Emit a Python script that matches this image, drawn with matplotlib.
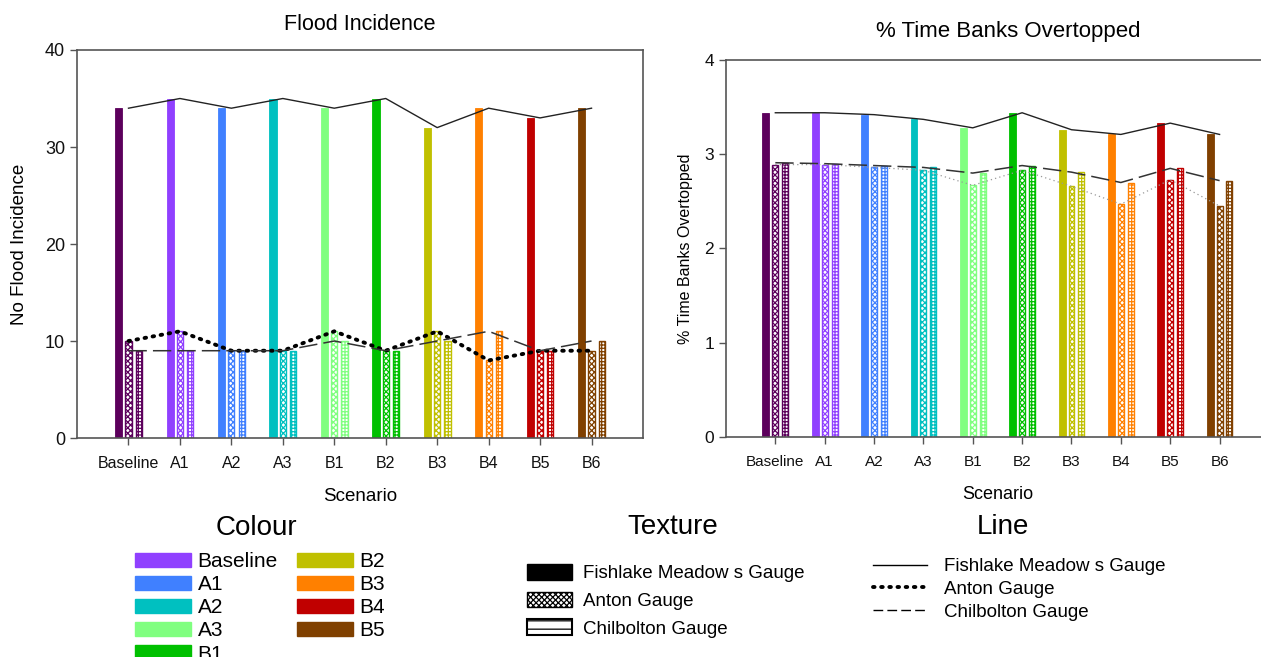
import numpy as np
import matplotlib
matplotlib.use("Agg")
import matplotlib.pyplot as plt
from matplotlib.patches import Patch
from matplotlib.lines import Line2D

plt.rcParams['font.family'] = ['Liberation Sans', 'DejaVu Sans']
plt.rcParams['hatch.linewidth'] = 0.9

scenarios = ['Baseline', 'A1', 'A2', 'A3', 'B1', 'B2', 'B3', 'B4', 'B5', 'B6']
bar_colours = ['#5c005c', '#9040ff', '#4080ff', '#00c0c0', '#80ff80',
               '#00c000', '#c0c000', '#ff8000', '#c00000', '#804000']

# Flood incidence (counts)
flood_fishlake = [34, 35, 34, 35, 34, 35, 32, 34, 33, 34]
flood_anton = [10, 11, 9, 9, 11, 9, 11, 8, 9, 9]
flood_chilbolton = [9, 9, 9, 9, 10, 9, 10, 11, 9, 10]

# % time banks overtopped
over_fishlake = [3.44, 3.44, 3.42, 3.37, 3.28, 3.44, 3.26, 3.21, 3.33, 3.21]
over_anton = [2.89, 2.89, 2.86, 2.83, 2.67, 2.83, 2.66, 2.47, 2.73, 2.45]
over_chilbolton = [2.91, 2.90, 2.88, 2.86, 2.80, 2.88, 2.81, 2.70, 2.85, 2.72]

# colour legend (as labelled in the original figure)
legend_names = ['Baseline', 'A1', 'A2', 'A3', 'B1', 'B2', 'B3', 'B4', 'B5']
legend_colours = ['#9040ff', '#4080ff', '#00c0c0', '#80ff80', '#00c000',
                  '#c0c000', '#ff8000', '#c00000', '#804000']

spine_col = '#555555'
x = np.arange(len(scenarios))


def draw_panel(ax, fish, anton, chil, anton_style, tick_fs, label_fs):
    for i in range(len(scenarios)):
        c = bar_colours[i]
        ax.bar(x[i] - 0.19, fish[i], width=0.14, color=c, edgecolor=c,
               linewidth=0.6, zorder=2)
        ax.bar(x[i], anton[i], width=0.12, facecolor='white', edgecolor=c,
               hatch='xxxxxx', linewidth=1.0, zorder=2)
        ax.bar(x[i] + 0.2, chil[i], width=0.12, facecolor='white', edgecolor=c,
               hatch='+++++', linewidth=1.0, zorder=2)
    ax.plot(x, fish, color='#222222', lw=1.0, zorder=4)
    ax.plot(x, anton, zorder=4, **anton_style)
    ax.plot(x, chil, color='#333333', lw=1.1, dashes=(12, 4), zorder=4)
    ax.set_xlim(-1, 10)
    ax.set_xticks(x)
    ax.set_xticklabels(scenarios, fontsize=tick_fs)
    for s in ax.spines.values():
        s.set_color(spine_col)
        s.set_linewidth(1.2)
    ax.tick_params(axis='both', colors=spine_col, labelcolor='#111111',
                   direction='out', length=5, width=1)
    ax.tick_params(axis='x', pad=8)
    ax.tick_params(axis='y', labelsize=tick_fs + 1.5)
    ax.set_xlabel('Scenario', fontsize=label_fs, labelpad=12)


fig = plt.figure(figsize=(12.61, 6.57), dpi=100)
ax1 = fig.add_axes([0.0611, 0.3333, 0.4488, 0.5906])
ax2 = fig.add_axes([0.5757, 0.3349, 0.4306, 0.5738])

draw_panel(ax1, flood_fishlake, flood_anton, flood_chilbolton,
           dict(color='black', lw=2.8, linestyle=(0, (0.4, 1.7)),
                dash_capstyle='round'), 11.5, 13.5)
ax1.set_ylim(0, 40)
ax1.set_yticks([0, 10, 20, 30, 40])
ax1.set_ylabel('No Flood Incidence', fontsize=13.5, labelpad=12)
fig.text(360 / 1261, 1 - 25 / 657, 'Flood Incidence', fontsize=15.5,
         ha='center', va='center')

draw_panel(ax2, over_fishlake, over_anton, over_chilbolton,
           dict(color='#999999', lw=0.9, linestyle=(0, (1, 2.5))), 11, 13)
ax2.spines['right'].set_visible(False)
ax2.set_ylim(0, 4)
ax2.set_yticks([0, 1, 2, 3, 4])
ax2.set_ylabel('% Time Banks Overtopped', fontsize=11.5, labelpad=8)
fig.text(1008 / 1261, 1 - 31 / 657, '% Time Banks Overtopped', fontsize=16,
         ha='center', va='center')

# legends
fig.text(256 / 1261, 1 - 528 / 657, 'Colour', fontsize=20, ha='center', va='center')
colour_handles = [Patch(facecolor=c, edgecolor=c) for c in legend_colours]
fig.legend(colour_handles, legend_names, ncol=2, loc='upper left',
           bbox_to_anchor=(135 / 1261, 1 - 552 / 657), frameon=False,
           fontsize=15, handlelength=2.7, handleheight=0.65,
           labelspacing=0.2, handletextpad=0.3, columnspacing=0.9,
           borderpad=0, borderaxespad=0)

fig.text(673 / 1261, 1 - 527 / 657, 'Texture', fontsize=20, ha='center', va='center')
texture_handles = [Patch(facecolor='black', edgecolor='black'),
                   Patch(facecolor='white', edgecolor='black', hatch='xxxxxx'),
                   Patch(facecolor='white', edgecolor='black', hatch='--', linewidth=1.5)]
fig.legend(texture_handles,
           ['Fishlake Meadow s Gauge', 'Anton Gauge', 'Chilbolton Gauge'],
           loc='upper left', bbox_to_anchor=(527 / 1261, 1 - 564 / 657),
           frameon=False, fontsize=13.5, handlelength=2.4, handleheight=0.9,
           labelspacing=0.5, handletextpad=0.6, borderpad=0, borderaxespad=0)

fig.text(1003 / 1261, 1 - 527 / 657, 'Line', fontsize=20, ha='center', va='center')
line_handles = [Line2D([], [], color='black', lw=1.0),
                Line2D([], [], color='black', lw=2.8, linestyle=(0, (0.4, 1.7)),
                       dash_capstyle='round'),
                Line2D([], [], color='black', lw=1.0, dashes=(7, 3))]
fig.legend(line_handles,
           ['Fishlake Meadow s Gauge', 'Anton Gauge', 'Chilbolton Gauge'],
           loc='upper left', bbox_to_anchor=(873 / 1261, 1 - 558 / 657),
           frameon=False, fontsize=13.5, handlelength=2.9,
           labelspacing=0.3, handletextpad=0.9, borderpad=0, borderaxespad=0)

fig.savefig('out.png', dpi=100)
